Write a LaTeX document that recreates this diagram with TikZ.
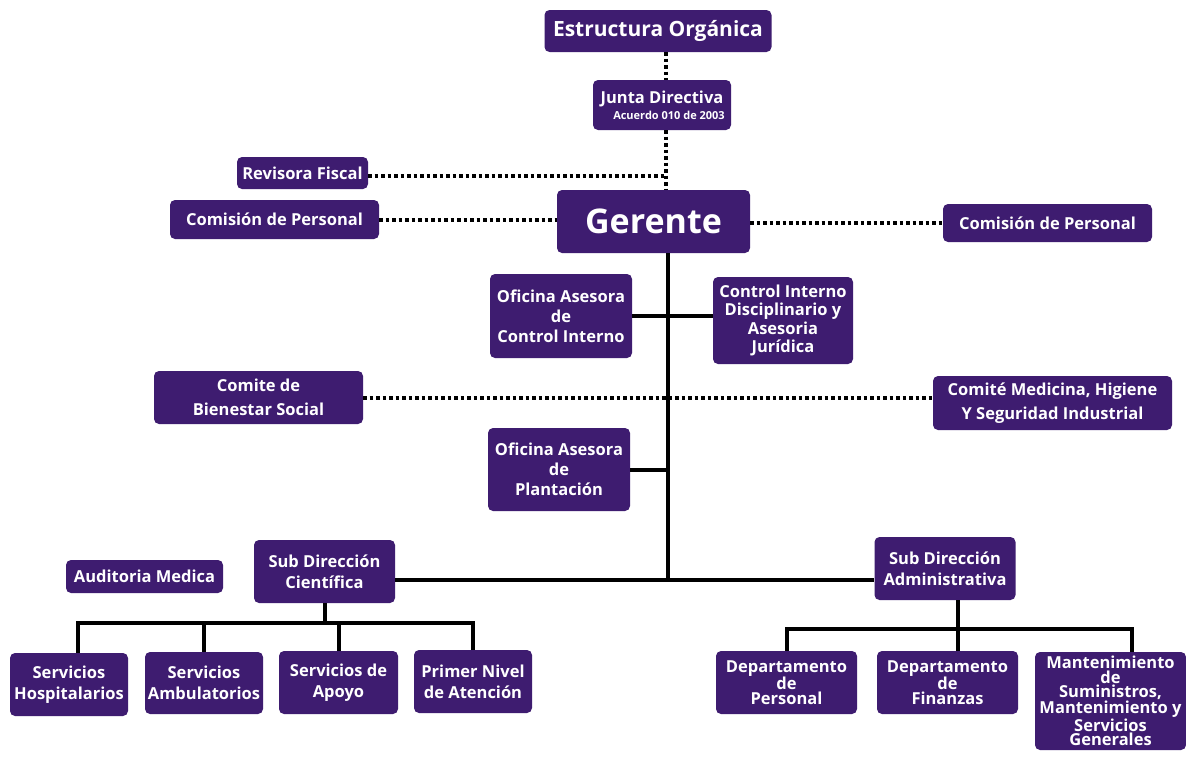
\documentclass[tikz,border=0pt]{standalone}
\usepackage{fontspec}
\setmainfont{Open Sans}
\definecolor{purp}{RGB}{62,28,112}
\newcommand{\fsz}[1]{\bfseries\fontsize{16.5}{#1}\selectfont}
\tikzset{
  box/.style={fill=purp, rounded corners=5pt, text=white, font=\fsz{19}, align=center, inner sep=0pt},
  solidline/.style={line width=4pt, black},
  dotline/.style={line width=4pt, black, dash pattern=on 3.5pt off 3pt},
}
\begin{document}
\begin{tikzpicture}[x=1pt,y=-1pt]
\path[use as bounding box, fill=white] (0,0) rectangle (1186,763);
% nodes
\node[box, minimum width=227pt, minimum height=42pt, font=\bfseries\fontsize{21}{24}\selectfont] (eo) at (658,31) {Estructura Orgánica};
\node[box, minimum width=138pt, minimum height=50pt, font=\bfseries\fontsize{16.5}{16}\selectfont] (jd) at (662,105) {Junta Directiva\\{\fontsize{11}{12}\selectfont\hspace*{14pt}Acuerdo 010 de 2003}};
\node[box, minimum width=131pt, minimum height=32pt] (rf) at (302.5,173) {Revisora Fiscal};
\node[box, minimum width=209pt, minimum height=39pt] (cpl) at (274.5,219.5) {Comisión de Personal};
\node[box, minimum width=193pt, minimum height=63pt, font=\bfseries\fontsize{34}{36}\selectfont] (ger) at (653.5,221.5) {Gerente};
\node[box, minimum width=209pt, minimum height=38pt] (cpr) at (1047.5,223) {Comisión de Personal};
\node[box, minimum width=142pt, minimum height=84pt, font=\fsz{20}] (oaci) at (561,316) {Oficina Asesora\\de\\Control Interno};
\node[box, minimum width=140pt, minimum height=87pt, font=\fsz{18.5}] (cid) at (783,320.5) {Control Interno\\Disciplinario y\\Asesoria\\Jurídica};
\node[box, minimum width=209pt, minimum height=53pt, font=\fsz{24}] (cbs) at (258.5,397.5) {Comite de\\Bienestar Social};
\node[box, minimum width=239pt, minimum height=54pt, font=\fsz{24}] (cmh) at (1052.5,403) {Comité Medicina, Higiene\\Y Seguridad Industrial};
\node[box, minimum width=142pt, minimum height=83pt, font=\fsz{20}] (oap) at (559,469.5) {Oficina Asesora\\de\\Plantación};
\node[box, minimum width=157pt, minimum height=33pt] (am) at (144.5,576.5) {Auditoria Medica};
\node[box, minimum width=141pt, minimum height=63pt, font=\fsz{21}] (sdc) at (324.5,571.5) {Sub Dirección\\Científica};
\node[box, minimum width=141pt, minimum height=63pt, font=\fsz{21}] (sda) at (945,568.5) {Sub Dirección\\Administrativa};
\node[box, minimum width=118pt, minimum height=63pt, font=\fsz{21}] (sh) at (69,684.5) {Servicios\\Hospitalarios};
\node[box, minimum width=118pt, minimum height=62pt, font=\fsz{21}] (sam) at (204,683) {Servicios\\Ambulatorios};
\node[box, minimum width=119pt, minimum height=63pt, font=\fsz{21}] (sap) at (338.5,682.5) {Servicios de\\Apoyo};
\node[box, minimum width=118pt, minimum height=63pt, font=\fsz{21}] (pna) at (473,681.5) {Primer Nivel\\de Atención};
\node[box, minimum width=141pt, minimum height=63pt, font=\fsz{15}] (dp) at (786.5,682.5) {Departamento\\de\\Personal};
\node[box, minimum width=141pt, minimum height=63pt, font=\fsz{15}] (df) at (947.5,682.5) {Departamento\\de\\Finanzas};
\node[box, minimum width=151pt, minimum height=98pt, font=\fsz{14.6}] (mant) at (1110.5,701) {Mantenimiento\\de\\Suministros,\\Mantenimiento y\\Servicios\\Generales};
% coordinates
\coordinate (vx) at (666,0);
\coordinate (sx) at (668,0);
\coordinate (bus) at (668,580);
\coordinate (lbus) at (0,623);
\coordinate (lfirst) at (78,623);
\coordinate (rmid) at (958,629);
\coordinate (rleft) at (787,629);
\coordinate (rright) at (1132,629);
% dotted connectors
\draw[dotline] (eo.south -| vx) -- (jd.north -| vx);
\draw[dotline] (jd.south -| vx) -- (ger.north -| vx);
\coordinate (rfe) at ([yshift=-3pt]rf.east);
\draw[dotline] (rfe) -- (rfe -| vx);
\draw[dotline] (cpl.east) -- (ger.west |- cpl.east);
\draw[dotline] (ger.east |- cpr.west) -- (cpr.west);
\draw[dotline] (cbs.east) -- (cmh.west |- cbs.east);
% solid connectors
\draw[solidline] (ger.south -| sx) -- (bus);
\draw[solidline] (oaci.east) -- (cid.west |- oaci.east);
\draw[solidline] (oap.east) -- (oap.east -| sx);
\draw[solidline] (sdc.east |- bus) -- (sda.west |- bus);
\draw[solidline] (sdc.south) -- (sdc.south |- lbus);
\draw[solidline] (sh.north -| lfirst) -- (lfirst) -- (pna.north |- lbus) -- (pna.north);
\draw[solidline] (sam.north) -- (sam.north |- lbus);
\draw[solidline] (sap.north) -- (sap.north |- lbus);
\draw[solidline] (sda.south -| rmid) -- (df.north -| rmid);
\draw[solidline] (dp.north -| rleft) -- (rleft) -- (rright) -- (mant.north -| rright);
\end{tikzpicture}
\end{document}
